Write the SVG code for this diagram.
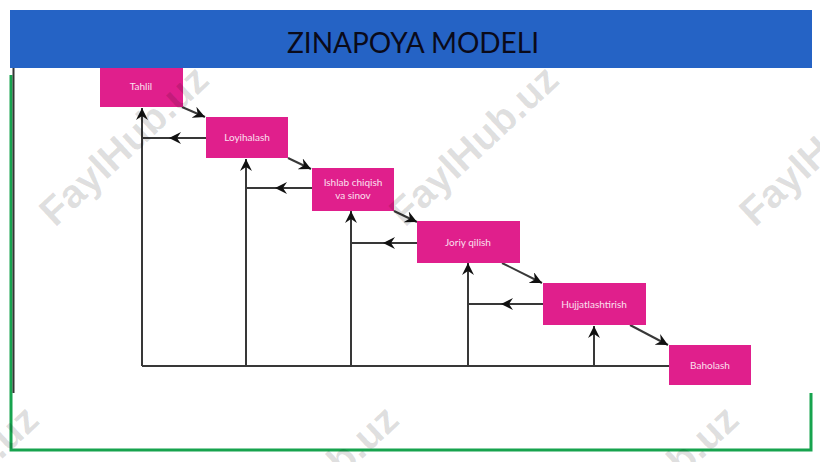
<svg xmlns="http://www.w3.org/2000/svg" width="820" height="462" viewBox="0 0 820 462">
  <defs>
    <marker id="arr" markerUnits="userSpaceOnUse" markerWidth="13" markerHeight="12" refX="12" refY="6" orient="auto">
      <path d="M0,0 L12,6 L0,12 L4,6 z" fill="#111"/>
    </marker>
    <style>
      .box { fill: #e01f8c; }
      .lbl { font-family: Lato, "Open Sans", sans-serif; font-size: 10px; fill: #fbe0ef; text-anchor: middle; }
      .ln { stroke: #383838; stroke-width: 2; fill: none; }
      .wm { font-family: "Liberation Sans", Arial, sans-serif; font-weight: bold; font-size: 40px; fill: #000; fill-opacity: 0.13; }
    </style>
  </defs>
  <rect width="820" height="462" fill="#fff"/>
  <!-- green frame -->
  <path d="M11,75 V450 H811 V393" fill="none" stroke="#17a34e" stroke-width="3"/>
  <!-- picture panel -->
  <rect x="13" y="66" width="799" height="327" fill="#fff"/>
  <line x1="13.5" y1="66" x2="13.5" y2="393" stroke="#333" stroke-width="2"/>

  <g id="connectors">
    <!-- diagonal steps -->
    <line class="ln" x1="182" y1="107" x2="205" y2="117" marker-end="url(#arr)"/>
    <line class="ln" x1="288" y1="158" x2="311" y2="169" marker-end="url(#arr)"/>
    <line class="ln" x1="394" y1="211" x2="417" y2="222" marker-end="url(#arr)"/>
    <line class="ln" x1="502" y1="263" x2="542" y2="283" marker-end="url(#arr)"/>
    <line class="ln" x1="630" y1="325" x2="668" y2="345" marker-end="url(#arr)"/>
    <!-- bottom return line -->
    <line class="ln" x1="142" y1="366" x2="669" y2="366"/>
    <!-- verticals -->
    <line class="ln" x1="142" y1="366" x2="142" y2="108" marker-end="url(#arr)"/>
    <line class="ln" x1="246" y1="366" x2="246" y2="159" marker-end="url(#arr)"/>
    <line class="ln" x1="351" y1="366" x2="351" y2="211" marker-end="url(#arr)"/>
    <line class="ln" x1="468" y1="366" x2="468" y2="263" marker-end="url(#arr)"/>
    <line class="ln" x1="594" y1="366" x2="594" y2="326" marker-end="url(#arr)"/>
    <!-- horizontal feedback -->
    <line class="ln" x1="206" y1="138" x2="169" y2="138" marker-end="url(#arr)"/>
    <line class="ln" x1="169" y1="138" x2="142" y2="138"/>
    <line class="ln" x1="312" y1="188" x2="275" y2="188" marker-end="url(#arr)"/>
    <line class="ln" x1="275" y1="188" x2="246" y2="188"/>
    <line class="ln" x1="417" y1="243" x2="383" y2="243" marker-end="url(#arr)"/>
    <line class="ln" x1="383" y1="243" x2="351" y2="243"/>
    <line class="ln" x1="543" y1="304" x2="501" y2="304" marker-end="url(#arr)"/>
    <line class="ln" x1="501" y1="304" x2="468" y2="304"/>
  </g>

  <g id="tahlil">
    <rect class="box" x="100" y="62" width="83" height="45"/>
    <text class="lbl" x="141" y="90">Tahlil</text>
  </g>
  <g id="loyihalash">
    <rect class="box" x="206" y="117" width="82" height="41"/>
    <text class="lbl" x="247" y="141">Loyihalash</text>
  </g>
  <g id="ishlab">
    <rect class="box" x="312" y="168" width="82" height="43"/>
    <text class="lbl" x="353" y="186">Ishlab chiqish</text>
    <text class="lbl" x="353" y="199">va sinov</text>
  </g>
  <g id="joriy">
    <rect class="box" x="417" y="221" width="103" height="42"/>
    <text class="lbl" x="468" y="246">Joriy qilish</text>
  </g>
  <g id="hujjat">
    <rect class="box" x="543" y="283" width="103" height="42"/>
    <text class="lbl" x="594" y="308">Hujjatlashtirish</text>
  </g>
  <g id="baholash">
    <rect class="box" x="669" y="345" width="82" height="40"/>
    <text class="lbl" x="710" y="369">Baholash</text>
  </g>

  <g id="watermarks">
    <text class="wm" transform="translate(55,228) rotate(-43)">FaylHub.uz</text>
    <text class="wm" transform="translate(405,228) rotate(-43)">FaylHub.uz</text>
    <text class="wm" transform="translate(755,228) rotate(-43)">FaylHub.uz</text>
    <text class="wm" transform="translate(-115,568) rotate(-43)">FaylHub.uz</text>
    <text class="wm" transform="translate(245,568) rotate(-43)">FaylHub.uz</text>
    <text class="wm" transform="translate(585,568) rotate(-43)">FaylHub.uz</text>
  </g>

  <g id="title">
    <rect x="10" y="10" width="802" height="58" fill="#2563c5"/>
    <text x="413" y="53" font-family="Lato, 'Open Sans', sans-serif" font-size="28" fill="#0a0a1a" text-anchor="middle">ZINAPOYA MODELI</text>
  </g>
</svg>
